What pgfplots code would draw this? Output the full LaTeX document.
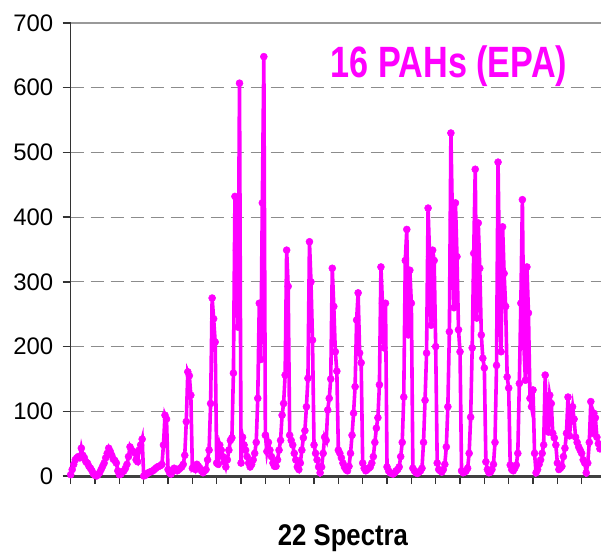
\documentclass[border=0pt]{standalone}
\usepackage{fontspec}
\setmainfont{Liberation Sans}
\usepackage{graphicx}
\usepackage{pgfplots}
\usepackage{pgfplotstable}
\pgfplotsset{compat=1.18}
\definecolor{pah}{RGB}{255,0,255}
\definecolor{gridgray}{RGB}{140,140,140}
% one row per measurement, 16 PAHs per spectrum (22 spectra)
\pgfplotstableread[row sep=\\]{
y\\
2\\10\\18\\25\\28\\30\\28\\43\\32\\28\\22\\20\\15\\12\\8\\3\\
1\\0\\2\\5\\10\\15\\20\\28\\35\\43\\38\\32\\26\\24\\20\\8\\
2\\3\\6\\8\\12\\18\\30\\45\\40\\38\\36\\25\\22\\40\\48\\57\\
0\\1\\3\\5\\6\\7\\8\\10\\12\\14\\15\\16\\18\\48\\94\\88\\
10\\5\\3\\8\\12\\10\\8\\10\\12\\14\\18\\32\\84\\161\\155\\125\\
12\\15\\10\\18\\15\\12\\8\\5\\8\\10\\25\\40\\112\\275\\243\\207\\
20\\18\\48\\40\\30\\22\\14\\25\\40\\55\\59\\159\\432\\349\\230\\607\\
20\\60\\48\\40\\30\\20\\14\\18\\25\\35\\52\\120\\267\\180\\422\\648\\
63\\38\\52\\40\\30\\20\\15\\15\\25\\40\\55\\94\\112\\156\\349\\293\\
63\\55\\48\\35\\25\\14\\10\\20\\40\\59\\70\\107\\151\\362\\300\\210\\
48\\35\\25\\14\\5\\14\\35\\60\\55\\102\\120\\150\\321\\262\\192\\162\\
40\\35\\28\\20\\14\\10\\8\\15\\35\\63\\97\\138\\241\\283\\190\\175\\
20\\12\\8\\10\\12\\14\\20\\30\\52\\74\\90\\141\\323\\267\\198\\267\\
14\\8\\5\\4\\3\\5\\8\\10\\14\\30\\52\\122\\333\\381\\218\\318\\
267\\12\\8\\5\\4\\6\\8\\12\\52\\117\\190\\414\\339\\233\\349\\333\\
200\\20\\10\\8\\6\\10\\18\\45\\107\\223\\530\\396\\260\\422\\339\\226\\
192\\8\\5\\6\\8\\12\\35\\91\\198\\344\\474\\244\\391\\321\\218\\182\\
167\\22\\10\\5\\6\\10\\18\\52\\171\\485\\313\\192\\385\\313\\262\\153\\
136\\17\\10\\8\\12\\17\\35\\143\\267\\427\\200\\148\\323\\252\\120\\107\\
133\\35\\5\\10\\18\\25\\35\\48\\156\\70\\68\\125\\112\\66\\59\\48\\
20\\10\\12\\15\\30\\43\\66\\122\\62\\90\\107\\88\\60\\52\\45\\40\\
35\\25\\20\\5\\20\\52\\115\\66\\97\\90\\60\\50\\42\\
}\pahdata
\begin{document}
\begin{tikzpicture}
\begin{axis}[
  scale only axis,
  width=530.3bp, height=453bp,
  xmin=0, xmax=348.7, ymin=0, ymax=700,
  axis x line*=bottom, axis y line*=left,
  x axis line style={line width=3bp, draw=black!75},
  y axis line style={line width=1.6bp, draw=black!80},
  xtick={0,16,...,336}, xticklabels={},
  ytick={0,100,...,700},
  tick align=outside,
  major tick length=8bp,
  xtick style={line width=1.2bp, draw=black!80},
  ytick style={line width=1.4bp, draw=black!80},
  ymajorgrids,
  major grid style={dashed, dash pattern=on 13bp off 7bp, line width=1.2bp, draw=gridgray},
  /pgf/number format/assume math mode=true,
  yticklabel style={font=\fontsize{24}{24}\selectfont, xshift=-6bp},
  xlabel={\scalebox{0.86}[1]{\textbf{22 Spectra}}},
  xlabel style={font=\fontsize{30}{30}\selectfont, at={(rel axis cs:0.5135,0)}, anchor=base, yshift=-69bp},
  clip=true,
]
\draw[draw=black!40, line width=2bp] (rel axis cs:0,1) -- (rel axis cs:1,1);
\addplot[color=pah, line width=3.6bp, mark=*, mark size=3.5bp,
  mark options={solid, line width=0.5bp, fill=pah, draw=pah}]
  table[x expr=\coordindex, y=y] {\pahdata};
\node[anchor=base, text=pah, font=\fontsize{44}{44}\selectfont\bfseries]
  at (rel axis cs:0.7134,0.8786) {\scalebox{0.78}[1]{16 PAHs (EPA)}};
\coordinate (bl) at (rel axis cs:0,0);
\coordinate (tr) at (rel axis cs:1,1);
\end{axis}
\pgfresetboundingbox
\path ([shift={(-70.7bp,-76bp)}]bl) rectangle ([shift={(0bp,23bp)}]tr);
\end{tikzpicture}
\end{document}
